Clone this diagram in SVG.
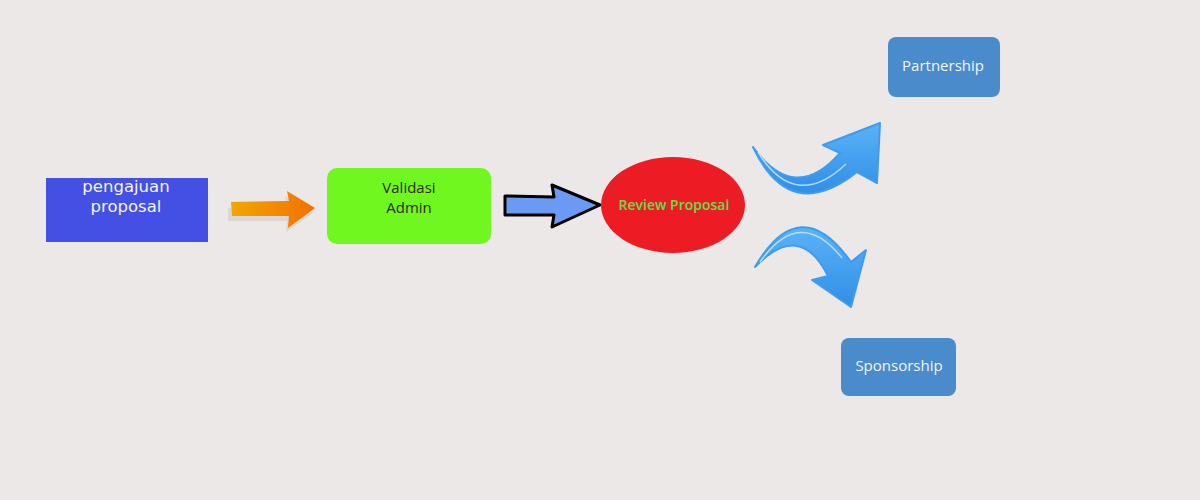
<svg xmlns="http://www.w3.org/2000/svg" width="1200" height="500" viewBox="0 0 1200 500">
<defs>
<style>
.t{font-family:"Open Sans","Liberation Sans",sans-serif;text-anchor:middle}
.d{font-family:"DejaVu Sans","Liberation Sans",sans-serif;text-anchor:middle}
.w{fill:#F4F4FF}
.blue{fill:#4A8BCB}
</style>
<linearGradient id="og" x1="0" y1="0" x2="1" y2="0">
<stop offset="0" stop-color="#F2A700"/>
<stop offset="1" stop-color="#F46F00"/>
</linearGradient>
<linearGradient id="bg1" x1="0" y1="0" x2="0" y2="1">
<stop offset="0" stop-color="#5BB3F7"/>
<stop offset="1" stop-color="#2F8EE6"/>
</linearGradient>
</defs>
<rect width="1200" height="500" fill="#ECE8E7"/>
<g id="connectors">
<path d="M230,206 L289,205 L287,194 L315,211 L288,230 L289,219 L230,219 Z" fill="#DCD7D4" transform="translate(-2,2)"/>
<path d="M231,202 L289,201 L287,191 L315,208 L288,228 L289,216 L232,216 Z" fill="url(#og)"/>
<path d="M505,196 L554,197 L552,185 L600,205 L552,227 L554,215 L505,215 Z" fill="#6A9AF3" stroke="#000" stroke-width="3" stroke-linejoin="round"/>
<path d="M753,147 Q790,225 857,172 L877,183 L880,123 L823,145 L840,153 Q795,205 753,147 Z" fill="url(#bg1)" stroke="#3D9CF0" stroke-width="2" stroke-linejoin="round"/>
<path d="M758,152 Q795,212 846,164" fill="none" stroke="#CFE8FF" stroke-width="1.5" opacity="0.8"/>
<path d="M755,267 Q800,190 851,262 L866,250 L851,307 L812,280 L828,276 Q800,220 755,267 Z" fill="url(#bg1)" stroke="#3D9CF0" stroke-width="2" stroke-linejoin="round"/>
<path d="M760,262 Q800,205 842,258" fill="none" stroke="#CFE8FF" stroke-width="1.5" opacity="0.8"/>
</g>
<g id="pengajuan">
<rect x="46" y="178" width="162" height="64" fill="#4350E3"/>
<text class="d w" x="126" y="192" font-size="16.5">pengajuan</text>
<text class="d w" x="126" y="212" font-size="16.5">proposal</text>
</g>
<g id="validasi">
<rect x="327" y="168" width="164" height="76" rx="10" fill="#6FF71F"/>
<text class="t" x="409" y="193" font-size="15" fill="#35290F">Validasi</text>
<text class="t" x="409" y="213" font-size="15" fill="#35290F">Admin</text>
</g>
<g id="review">
<ellipse cx="673" cy="205" rx="72" ry="48" fill="#ED1C24"/>
<text class="t" x="674" y="210" font-size="14" font-weight="600" fill="#5CE04A">Review Proposal</text>
</g>
<g id="partnership">
<rect class="blue" x="888" y="37" width="112" height="60" rx="8"/>
<text class="t w" x="943" y="70.5" font-size="15">Partnership</text>
</g>
<g id="sponsorship">
<rect class="blue" x="841" y="338" width="115" height="58" rx="8"/>
<text class="t w" x="899" y="370.5" font-size="15">Sponsorship</text>
</g>
</svg>
